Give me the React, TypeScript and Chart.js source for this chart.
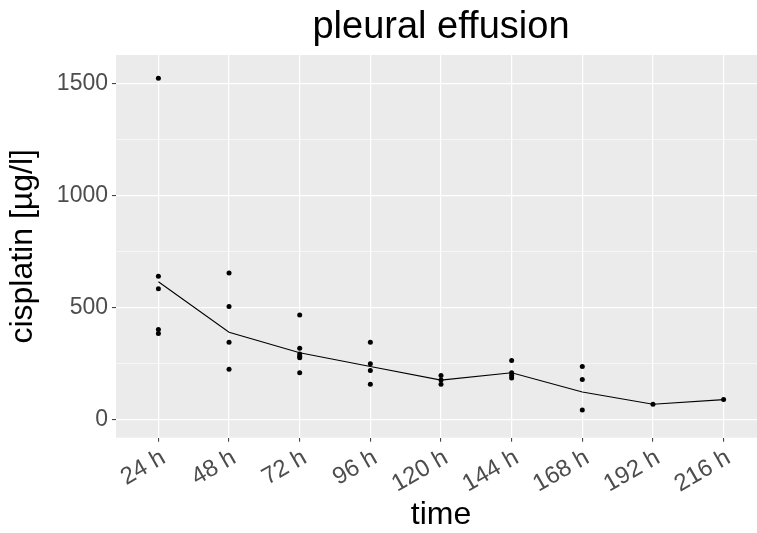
import React, { useEffect, useRef } from 'react';
import { Chart, registerables } from 'chart.js';

Chart.register(...registerables);

// ---- data ----
const hours = [24, 48, 72, 96, 120, 144, 168, 192, 216];
const obs24h = [1525, 641, 586, 404, 386];
const obs48h = [656, 507, 347, 226];
const obs72h = [469, 320, 295, 285, 278, 211];
const obs96h = [347, 251, 221, 159];
const obs120h = [199, 178, 159];
const obs144h = [266, 211, 199, 187];
const obs168h = [239, 181, 45];
const obs192h = [70];
const obs216h = [91];
const trendLine = [617, 392, 300, 239, 178, 211, 125, 70, 91];
const yTicks = [0, 250, 500, 750, 1000, 1250, 1500];
const yLabelled = [0, 500, 1000, 1500];

const observations = [obs24h, obs48h, obs72h, obs96h, obs120h, obs144h, obs168h, obs192h, obs216h];

const FONT = '"Liberation Sans", Arial, sans-serif';

const panelBg = {
  id: 'panelBg',
  beforeDraw(chart: any) {
    const { ctx, chartArea } = chart;
    const { left, top, right, bottom } = chartArea;
    ctx.save();
    ctx.fillStyle = '#ffffff';
    ctx.fillRect(0, 0, chart.width, chart.height);
    ctx.fillStyle = '#EBEBEB';
    ctx.fillRect(left, top, right - left, bottom - top);
    ctx.restore();
  },
};

export default function App() {
  const canvasRef = useRef<HTMLCanvasElement | null>(null);

  useEffect(() => {
    const canvas = canvasRef.current;
    if (!canvas) return;

    const points: { x: number; y: number }[] = [];
    observations.forEach((vals, i) => {
      vals.forEach((v) => points.push({ x: hours[i], y: v }));
    });
    const line = hours.map((h, i) => ({ x: h, y: trendLine[i] }));

    const chart = new Chart(canvas, {
      type: 'scatter',
      data: {
        datasets: [
          {
            type: 'line',
            label: 'trend',
            data: line,
            borderColor: '#000000',
            borderWidth: 1.1,
            pointRadius: 0,
            fill: false,
            tension: 0,
          } as any,
          {
            type: 'scatter',
            label: 'cisplatin',
            data: points,
            backgroundColor: '#000000',
            borderColor: '#000000',
            borderWidth: 0,
            pointRadius: 2.5,
          },
        ],
      },
      options: {
        responsive: false,
        animation: false,
        devicePixelRatio: 1,
        layout: { padding: { left: 0, right: 7, top: 0, bottom: 0 } },
        plugins: {
          legend: { display: false },
          tooltip: { enabled: false },
          title: {
            display: true,
            text: 'pleural effusion',
            fullSize: false,
            color: '#000000',
            font: { family: FONT, size: 38, weight: 'normal', lineHeight: 1.2 },
            padding: { top: 5, bottom: 4.4 },
          },
        },
        scales: {
          x: {
            type: 'linear',
            min: 9.6,
            max: 230.4,
            afterBuildTicks: (scale: any) => {
              scale.ticks = hours.map((h) => ({ value: h }));
            },
            afterFit: (scale: any) => {
              scale.height = 95.3;
            },
            ticks: {
              autoSkip: false,
              minRotation: 30,
              maxRotation: 30,
              padding: 2,
              labelOffset: 5,
              color: '#4D4D4D',
              font: { family: FONT, size: 24 },
              callback: (v: any) => `${v} h`,
            },
            grid: {
              color: '#FFFFFF',
              lineWidth: 1.2,
              drawTicks: true,
              tickLength: 4,
              tickColor: '#333333',
              tickWidth: 1,
            },
            border: { display: false },
            title: {
              display: true,
              text: 'time',
              color: '#000000',
              font: { family: FONT, size: 32, lineHeight: 1 },
              padding: { top: 0, bottom: 2 },
            },
          },
          y: {
            type: 'linear',
            min: -79,
            max: 1629,
            afterBuildTicks: (scale: any) => {
              scale.ticks = yTicks.map((v) => ({ value: v }));
            },
            afterFit: (scale: any) => {
              scale.width = 116;
            },
            ticks: {
              padding: 4,
              color: '#4D4D4D',
              font: { family: FONT, size: 23 },
              callback: (v: any) => (yLabelled.includes(Number(v)) ? String(v) : ''),
            },
            grid: {
              color: '#FFFFFF',
              lineWidth: (c: any) => (c.tick && yLabelled.includes(c.tick.value) ? 1.2 : 0.6),
              drawTicks: true,
              tickLength: 4,
              tickWidth: 1,
              tickColor: (c: any) =>
                c.tick && yLabelled.includes(c.tick.value) ? '#333333' : 'rgba(0,0,0,0)',
            },
            border: { display: false },
            title: {
              display: true,
              text: 'cisplatin [µg/l]',
              color: '#000000',
              font: { family: FONT, size: 32, lineHeight: 1 },
              padding: { top: 7.5, bottom: 0 },
            },
          },
        },
      },
      plugins: [panelBg],
    });

    return () => chart.destroy();
  }, []);

  return (
    <div
      style={{
        position: 'fixed',
        left: 0,
        top: 0,
        width: 757,
        height: 533,
        overflow: 'hidden',
        background: '#ffffff',
      }}
    >
      <canvas
        ref={canvasRef}
        width={773}
        height={533}
        style={{ display: 'block', width: 773, height: 533 }}
      />
    </div>
  );
}
